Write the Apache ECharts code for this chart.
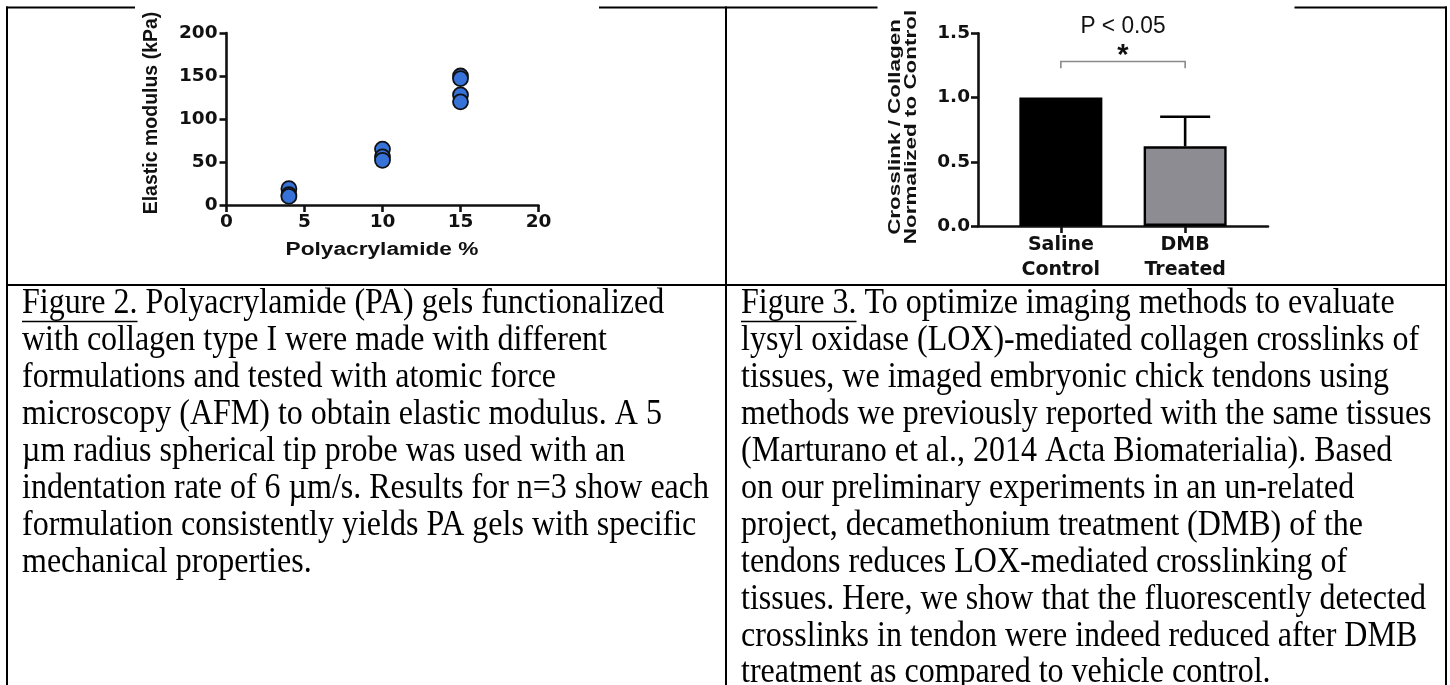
<!DOCTYPE html>
<html>
<head>
<meta charset="utf-8">
<script src="https://cdn.jsdelivr.net/npm/echarts@6/dist/echarts.min.js"></script>
<style>
html,body{margin:0;padding:0;background:#fff;}
#c{width:1450px;height:685px;}
</style>
</head>
<body>
<div id="c"></div>
<script>
// ---------- Figure 2 data (elastic modulus, kPa) ----------
const paPercent = [4, 10, 15];
const modulusAt4 = [19, 12, 10];
const modulusAt10 = [65, 56, 52];
const modulusAt15 = [150, 147, 128, 120];
const fig2XTitle = 'Polyacrylamide %';
const fig2YTitle = 'Elastic modulus (kPa)';

// ---------- Figure 3 data ----------
const categories = ['Saline\nControl', 'DMB\nTreated'];
const ratioMeans = [1.0, 0.62];
const ratioErrors = [0, 0.23];
const fig3YTitle = 'Crosslink / Collagen\nNormalized to Control';
const sigLabel = 'P < 0.05';
const sigStar = '*';

// ---------- Captions ----------
const fig2Caption = [
  'Figure 2. Polyacrylamide (PA) gels functionalized',
  'with collagen type I were made with different',
  'formulations and tested with atomic force',
  'microscopy (AFM) to obtain elastic modulus. A 5',
  '\u00b5m radius spherical tip probe was used with an',
  'indentation rate of 6 \u00b5m/s. Results for n=3 show each',
  'formulation consistently yields PA gels with specific',
  'mechanical properties.'
];
const fig3Caption = [
  'Figure 3. To optimize imaging methods to evaluate',
  'lysyl oxidase (LOX)-mediated collagen crosslinks of',
  'tissues, we imaged embryonic chick tendons using',
  'methods we previously reported with the same tissues',
  '(Marturano et al., 2014 Acta Biomaterialia). Based',
  'on our preliminary experiments in an un-related',
  'project, decamethonium treatment (DMB) of the',
  'tendons reduces LOX-mediated crosslinking of',
  'tissues. Here, we show that the fluorescently detected',
  'crosslinks in tendon were indeed reduced after DMB',
  'treatment as compared to vehicle control.'
];

// ---------- build ----------
const scatterData = [];
[modulusAt4, modulusAt10, modulusAt15].forEach((arr, i) => {
  arr.forEach(v => scatterData.push([paPercent[i], v]));
});
const catPos = categories.map((c, i) => 2 + 3 * i);
const barColors = ['#000000', '#8d8c92'];
const barData = categories.map((c, i) => ({
  value: [catPos[i], ratioMeans[i]],
  itemStyle: { color: barColors[i] }
}));
const errData = categories.map((c, i) => [catPos[i], ratioMeans[i], ratioErrors[i]]);

const AX = '#111';
const axisCommon = {
  axisLine: { show: true, onZero: false, lineStyle: { color: AX, width: 2.6 } },
  axisTick: { show: true, length: 7, inside: false, lineStyle: { color: AX, width: 2.6 } },
  splitLine: { show: false }
};
const tickFont = { fontFamily: 'DejaVu Sans', fontWeight: 'bold', color: '#111' };

const SERIF = '32px "Liberation Serif"';
const LINE_H = 36.9;
const FIRST_Y = 304;
const SERIF_SY = 1.12;

const graphics = [];
function hline(x1, x2, y) {
  graphics.push({ type: 'line', shape: { x1, y1: y, x2, y2: y }, style: { stroke: '#000', lineWidth: 2 }, silent: true });
}
function vline(x, y1, y2) {
  graphics.push({ type: 'line', shape: { x1: x, y1, x2: x, y2 }, style: { stroke: '#000', lineWidth: 2 }, silent: true });
}
// table borders
hline(6, 135, 7.5);
hline(599, 877.5, 7.5);
hline(1294.5, 1447, 7.5);
vline(7, 6.5, 685);
vline(726, 6.5, 685);
vline(1446, 6.5, 685);
hline(6, 1447, 285);

function addText(o) {
  graphics.push(Object.assign({ type: 'text', silent: true }, o));
}
fig2Caption.forEach((t, i) => addText({
  x: 22, y: FIRST_Y + LINE_H * i, scaleY: SERIF_SY,
  style: { text: t, font: SERIF, fill: '#000', align: 'left', textAlign: 'left', verticalAlign: 'middle', textVerticalAlign: 'middle' }
}));
fig3Caption.forEach((t, i) => addText({
  x: 741, y: FIRST_Y + LINE_H * i, scaleY: SERIF_SY,
  style: { text: t, font: SERIF, fill: '#000', align: 'left', textAlign: 'left', verticalAlign: 'middle', textVerticalAlign: 'middle' }
}));
// underlines of "Figure 2." / "Figure 3."
graphics.push({ type: 'line', shape: { x1: 22, y1: 321.5, x2: 137.5, y2: 321.5 }, style: { stroke: '#000', lineWidth: 1.6 }, silent: true });
graphics.push({ type: 'line', shape: { x1: 741, y1: 321.5, x2: 856.5, y2: 321.5 }, style: { stroke: '#000', lineWidth: 1.6 }, silent: true });

// axis titles
addText({
  x: 382, y: 250, scaleX: 1.26,
  style: { text: fig2XTitle, font: 'bold 18px "Liberation Sans"', fill: '#111', align: 'center', textAlign: 'center', verticalAlign: 'middle', textVerticalAlign: 'middle' }
});
addText({
  x: 152, y: 113, rotation: Math.PI / 2,
  style: { text: fig2YTitle, font: 'bold 19.5px "Liberation Sans"', fill: '#111', align: 'center', textAlign: 'center', verticalAlign: 'middle', textVerticalAlign: 'middle' }
});
addText({
  x: 903.5, y: 127, rotation: Math.PI / 2, scaleX: 1.32,
  style: { text: fig3YTitle, font: 'bold 17px "Liberation Sans"', lineHeight: 16, fill: '#111', align: 'center', textAlign: 'center', verticalAlign: 'middle', textVerticalAlign: 'middle' }
});

const option = {
  animation: false,
  backgroundColor: '#fff',
  grid: [
    { left: 226.5, top: 33, width: 312, height: 172 },
    { left: 978, top: 33.3, width: 290, height: 192.7 }
  ],
  xAxis: [
    Object.assign({}, axisCommon, {
      gridIndex: 0, type: 'value', min: 0, max: 20, interval: 5,
      axisLabel: Object.assign({ margin: 8, fontSize: 18.5 }, tickFont)
    }),
    Object.assign({}, axisCommon, {
      gridIndex: 1, type: 'value', min: 0, max: 7,
      axisTick: { show: true, length: 7, customValues: catPos, lineStyle: { color: AX, width: 2.6 } },
      axisLabel: Object.assign({
        margin: 7, fontSize: 19, lineHeight: 25, customValues: catPos,
        formatter: v => { const k = catPos.indexOf(v); return k >= 0 ? categories[k] : ''; }
      }, tickFont)
    })
  ],
  yAxis: [
    Object.assign({}, axisCommon, {
      gridIndex: 0, type: 'value', min: 0, max: 200, interval: 50,
      axisLabel: Object.assign({ margin: 9, fontSize: 18.5 }, tickFont)
    }),
    Object.assign({}, axisCommon, {
      gridIndex: 1, type: 'value', min: 0, max: 1.5, interval: 0.5,
      axisLabel: Object.assign({ margin: 8, fontSize: 18.5, formatter: v => v.toFixed(1) }, tickFont)
    })
  ],
  series: [
    {
      type: 'scatter', xAxisIndex: 0, yAxisIndex: 0, data: scatterData,
      symbol: 'circle', symbolSize: 15,
      itemStyle: { color: '#3672d8', borderColor: '#111', borderWidth: 1.8, opacity: 1 }
    },
    {
      type: 'bar', xAxisIndex: 1, yAxisIndex: 1, data: barData, barWidth: 83,
      itemStyle: { borderColor: '#000', borderWidth: 2.4 }
    },
    {
      type: 'custom', xAxisIndex: 1, yAxisIndex: 1, data: errData, z: 5,
      renderItem: (params, api) => {
        const x = api.value(0), m = api.value(1), e = api.value(2);
        if (!e) return null;
        const b = api.coord([x, m]);
        const t = api.coord([x, m + e]);
        const hw = 25;
        return {
          type: 'group', children: [
            { type: 'line', shape: { x1: b[0], y1: b[1], x2: t[0], y2: t[1] }, style: { stroke: '#000', lineWidth: 2.6 } },
            { type: 'line', shape: { x1: t[0] - hw, y1: t[1], x2: t[0] + hw, y2: t[1] }, style: { stroke: '#000', lineWidth: 2.6 } }
          ]
        };
      }
    },
    {
      type: 'custom', xAxisIndex: 1, yAxisIndex: 1, data: [[catPos[0], catPos[1], 1.28]], z: 5,
      renderItem: (params, api) => {
        const a = api.coord([api.value(0), api.value(2)]);
        const b = api.coord([api.value(1), api.value(2)]);
        const lo = api.coord([api.value(0), api.value(2) - 0.052])[1];
        const mid = (a[0] + b[0]) / 2;
        const star = api.coord([api.value(0), api.value(2) + 0.04])[1];
        const pl = api.coord([api.value(0), api.value(2) + 0.27])[1];
        return {
          type: 'group', children: [
            { type: 'polyline', shape: { points: [[a[0], lo], [a[0], a[1]], [b[0], b[1]], [b[0], lo]] }, style: { stroke: '#8a8a8a', lineWidth: 1.6, fill: null } },
            { type: 'text', x: mid, y: star, style: { text: sigStar, font: 'bold 29px "Liberation Sans"', fill: '#111', align: 'center', textAlign: 'center', verticalAlign: 'middle', textVerticalAlign: 'middle' } },
            { type: 'text', x: mid, y: pl, scaleX: 1.08, scaleY: 1.12, style: { text: sigLabel, font: '21px "Liberation Sans"', fill: '#111', align: 'center', textAlign: 'center', verticalAlign: 'middle', textVerticalAlign: 'middle' } }
          ]
        };
      }
    }
  ],
  graphic: { elements: graphics }
};

const chart = echarts.init(document.getElementById('c'), null, { renderer: 'canvas' });
chart.setOption(option);
</script>
</body>
</html>
